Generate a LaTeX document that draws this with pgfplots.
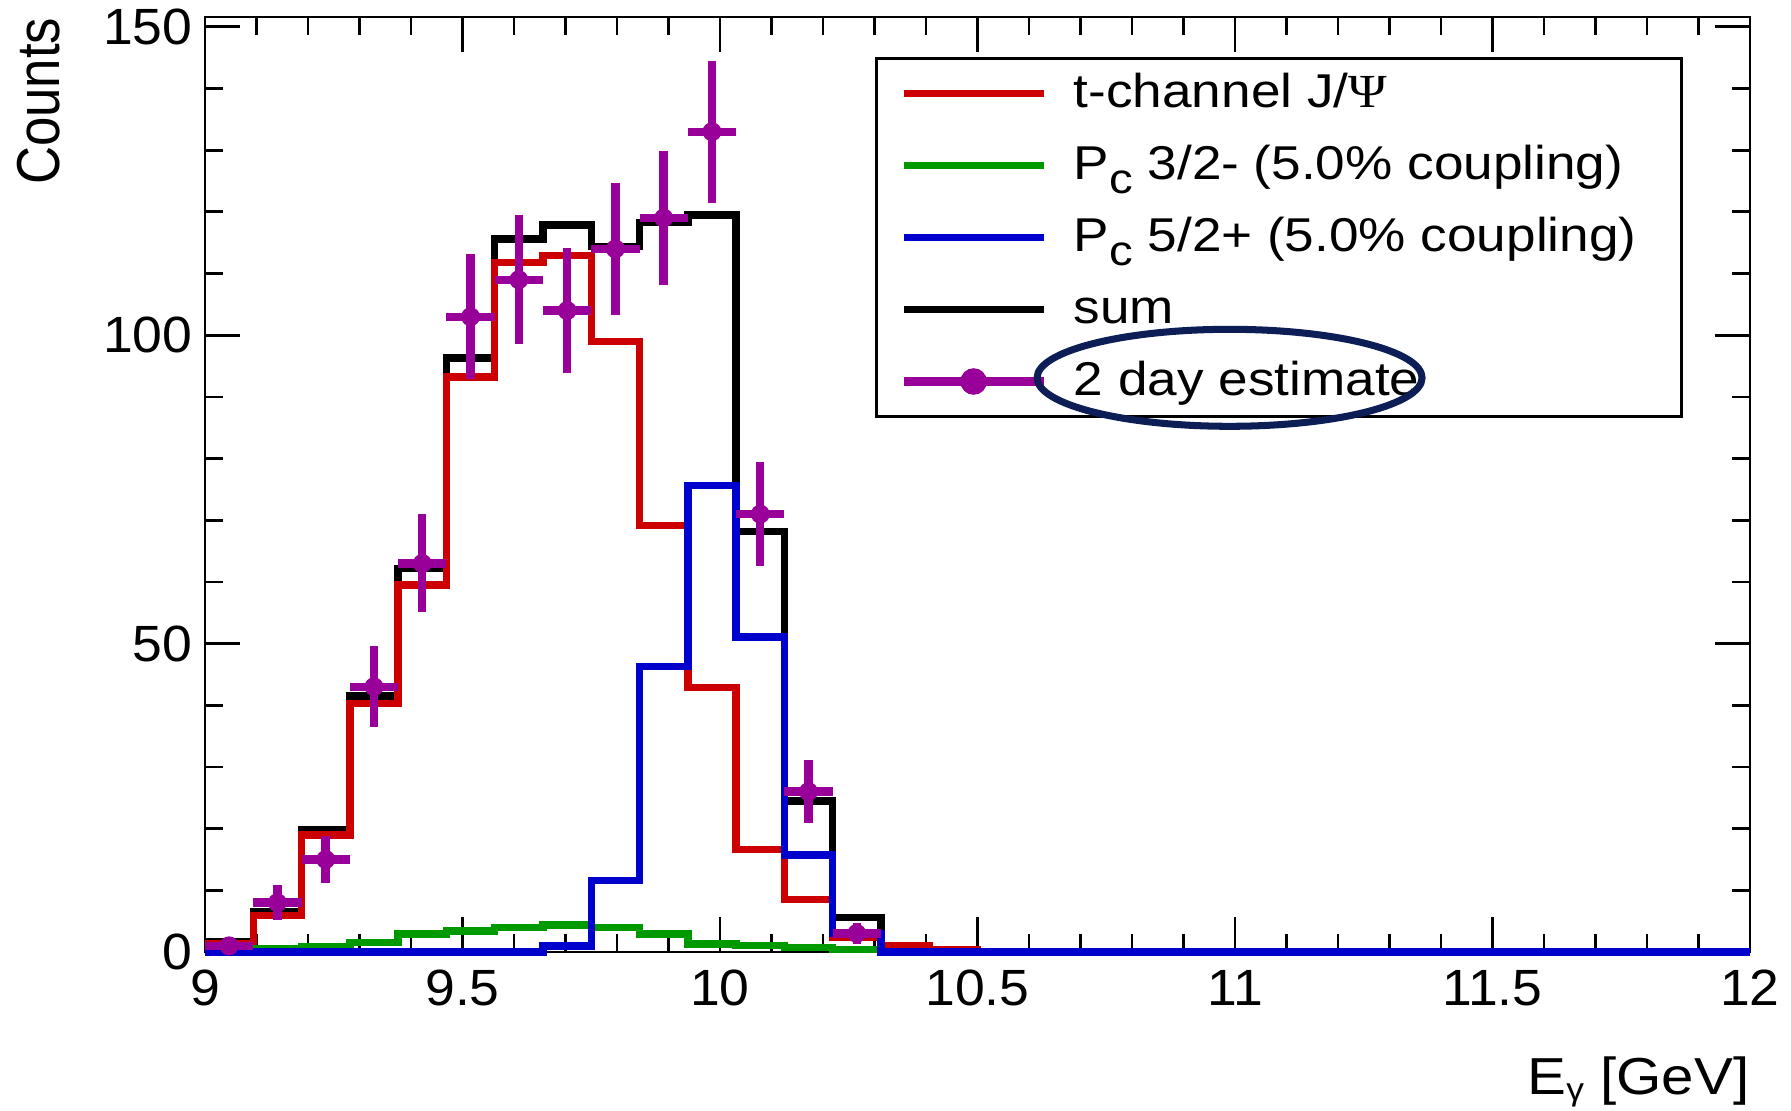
\documentclass[border=0pt]{standalone}
\usepackage{pgfplots}
\pgfplotsset{compat=1.18}
\usepackage{fontspec}
\setmainfont{Liberation Sans}
\newfontfamily\legfont{Liberation Sans}[FakeStretch=1.12]
\newfontfamily\tickfont{Liberation Sans}[FakeStretch=1.05]
\newfontfamily\greekserif{Liberation Serif}[FakeStretch=1.10]
\definecolor{hred}{RGB}{204,0,0}
\definecolor{hgreen}{RGB}{0,153,0}
\definecolor{hblue}{RGB}{0,0,204}
\definecolor{hpurple}{RGB}{153,0,153}
\definecolor{navy}{RGB}{12,30,85}
\newcommand{\csub}{\raisebox{-0.29em}{\fontsize{12}{12}\selectfont c}}
\newcommand{\gsub}{\raisebox{-0.12em}{\fontsize{9}{9}\selectfont γ}}
\newcommand{\legbox}[1]{\makebox[58.5mm][l]{#1}}
\pgfplotsset{
  histline/.style={legend image code/.code={\draw[##1] (0mm,0mm) -- (14mm,0mm);}},
  purplelegend/.style={legend image code/.code={\draw[##1] (0mm,0mm) -- (14mm,0mm); \fill[##1] (7mm,0mm) circle (0.9mm);}},
}

\pgfplotstableread{
x ex y ey
9.046875 0.046875 1 1
9.140625 0.046875 8 2.83
9.234375 0.046875 15 3.87
9.328125 0.046875 43 6.56
9.421875 0.046875 63 7.94
9.515625 0.046875 103 10.15
9.609375 0.046875 109 10.44
9.703125 0.046875 104 10.20
9.796875 0.046875 114 10.68
9.890625 0.046875 119 10.91
9.984375 0.046875 133 11.53
10.078125 0.046875 71 8.43
10.171875 0.046875 26 5.10
10.265625 0.046875 3 1.73
}\datatable

\begin{document}
\begin{tikzpicture}
\useasboundingbox (0,0) rectangle (179.1mm,111mm);
\begin{axis}[
  at={(20.5mm,15.8mm)}, anchor=south west,
  scale only axis, width=154.5mm, height=93.5mm,
  xmin=9, xmax=12, ymin=0, ymax=151.6,
  xtick={9,9.5,10,10.5,11,11.5,12},
  ytick={0,50,100,150},
  minor x tick num=4, minor y tick num=4,
  tick pos=both, tick align=inside,
  major tick length=3.5mm, minor tick length=1.8mm,
  axis line style={line width=0.8pt},
  every tick/.style={line width=0.8pt, black},
  clip=false,
  /pgf/number format/assume math mode=true,
  tick label style={font=\tickfont\fontsize{14.5}{16}\selectfont},
  xticklabel style={anchor=base, yshift=-5.3mm, inner sep=0pt},
  yticklabel style={anchor=east, xshift=-1.2mm, inner sep=0pt},
  xlabel={E\gsub{} [GeV]},
  xlabel style={at={(rel axis cs:1,-0.152)}, anchor=base east, inner sep=0pt, font=\legfont\fontsize{14.8}{16}\selectfont},
  ylabel={\scalebox{1}[1.15]{\fontsize{15}{16}\selectfont Counts}},
  ylabel style={at={(rel axis cs:-0.108,1)}, anchor=east, inner sep=0pt},
  histline,
  legend style={at={(axis cs:10.301,145.1)}, anchor=north west,
    draw=black, line width=0.8pt, fill=white,
    inner xsep=2.3mm, inner ysep=0.9mm,
    row sep=2mm, column sep=2.6mm,
    font=\legfont\fontsize{13.5}{15}\selectfont,
    nodes={inner sep=0pt, text height=4mm, text depth=1.2mm}},
  legend cell align=left,
]
% sum
\addplot[black, line width=2.1pt, const plot mark left, no marks, line join=miter, forget plot] coordinates {
(9,1.7)(9.09375,6.6)(9.1875,19.9)(9.28125,41.5)(9.375,62.2)(9.46875,96.3)(9.5625,115.6)(9.65625,117.9)(9.75,114.4)(9.84375,118.3)(9.9375,119.5)(10.03125,68.2)(10.125,24.5)(10.21875,5.6)(10.3125,1.1)(10.40625,0.4)(10.5,0)(12,0)};
% t-channel
\addplot[hred, line width=2.1pt, const plot mark left, no marks, line join=miter, forget plot] coordinates {
(9,1.3)(9.09375,5.9)(9.1875,19.0)(9.28125,40.3)(9.375,59.5)(9.46875,93.2)(9.5625,111.8)(9.65625,112.9)(9.75,99.0)(9.84375,69.2)(9.9375,42.9)(10.03125,16.6)(10.125,8.5)(10.21875,2.4)(10.3125,1.0)(10.40625,0.4)(10.5,0)(12,0)};
% Pc 3/2-
\addplot[hgreen, line width=2.1pt, const plot mark left, no marks, line join=miter, forget plot] coordinates {
(9,0.4)(9.09375,0.6)(9.1875,0.9)(9.28125,1.5)(9.375,2.9)(9.46875,3.4)(9.5625,4.0)(9.65625,4.4)(9.75,4.0)(9.84375,2.9)(9.9375,1.3)(10.03125,1.1)(10.125,0.75)(10.21875,0.45)(10.3125,0.1)(10.40625,0)(12,0)};
% Pc 5/2+
\addplot[hblue, line width=2.1pt, const plot mark left, no marks, line join=miter, forget plot] coordinates {
(9,0)(9.65625,1.0)(9.75,11.6)(9.84375,46.3)(9.9375,75.6)(10.03125,51.1)(10.125,15.7)(10.21875,3.0)(10.3125,0)(12,0)};
% 2 day estimate
\addplot[hpurple, only marks, mark=*, mark size=2.5pt, forget plot,
  error bars/.cd, x dir=both, x explicit, y dir=both, y explicit,
  error mark=none, error bar style={line width=2.4pt, hpurple}]
  table[x=x, y=y, x error=ex, y error=ey] {\datatable};

\addlegendimage{hred, line width=2.1pt}
\addlegendentry{\legbox{t-channel J/{\greekserif Ψ}}}
\addlegendimage{hgreen, line width=2.1pt}
\addlegendentry{\legbox{P\csub{} 3/2- (5.0\% coupling)}}
\addlegendimage{hblue, line width=2.1pt}
\addlegendentry{\legbox{P\csub{} 5/2+ (5.0\% coupling)}}
\addlegendimage{black, line width=2.1pt}
\addlegendentry{\legbox{sum}}
\addlegendimage{hpurple, line width=2.4pt, purplelegend}
\addlegendentry{\legbox{2 day estimate}}

\coordinate (ell) at (axis cs:10.9895,93.1);
\end{axis}
\draw[navy, line width=2.0pt] (ell) ellipse [x radius=19.25mm, y radius=4.85mm];
\end{tikzpicture}
\end{document}
